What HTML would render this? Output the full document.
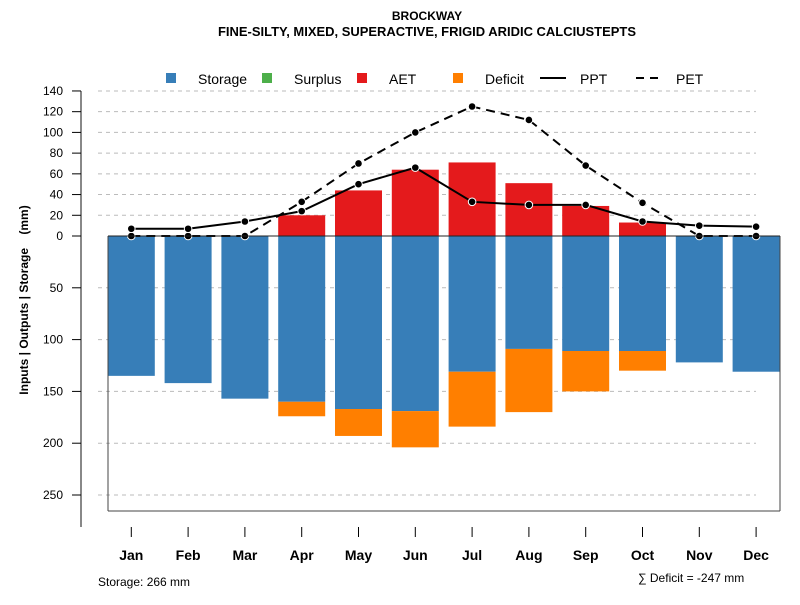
<!DOCTYPE html>
<html><head><meta charset="utf-8"><style>
body{margin:0;background:#fff;font-family:"Liberation Sans",sans-serif}
svg text{font-family:"Liberation Sans",sans-serif}
</style></head><body>
<svg id="chart" width="800" height="600" viewBox="0 0 800 600" xmlns="http://www.w3.org/2000/svg">
<text x="427" y="20" text-anchor="middle" font-size="12" font-weight="bold">BROCKWAY</text>
<text x="427" y="36" text-anchor="middle" font-size="12.5" font-weight="bold" textLength="418" lengthAdjust="spacingAndGlyphs">FINE-SILTY, MIXED, SUPERACTIVE, FRIGID ARIDIC CALCIUSTEPTS</text>
<g id="grid"></g>
<g id="bars"></g>
<g id="lines"></g>
<g id="axes"></g>
<g font-size="14">
 <rect x="166" y="73" width="10" height="10" fill="#377EB8"/>
 <text x="198" y="84">Storage</text>
 <rect x="262" y="73" width="10" height="10" fill="#4DAF4A"/>
 <text x="294" y="84">Surplus</text>
 <rect x="357" y="73" width="10" height="10" fill="#E41A1C"/>
 <text x="389" y="84">AET</text>
 <rect x="453" y="73" width="10" height="10" fill="#FF7F00"/>
 <text x="485" y="84">Deficit</text>
 <line x1="540" y1="78" x2="566" y2="78" stroke="#000" stroke-width="2"/>
 <text x="580" y="84">PPT</text>
 <line x1="636" y1="78" x2="662" y2="78" stroke="#000" stroke-width="2" stroke-dasharray="8,6"/>
 <text x="676" y="84">PET</text>
</g>
<text transform="translate(28,300) rotate(-90)" text-anchor="middle" font-size="12" font-weight="bold" xml:space="preserve">Inputs | Outputs | Storage    (mm)</text>
<text x="98" y="586" font-size="12">Storage: 266 mm</text>
<text x="638" y="582" font-size="12">∑ Deficit = -247 mm</text>
</svg>
<script>
const months=["Jan","Feb","Mar","Apr","May","Jun","Jul","Aug","Sep","Oct","Nov","Dec"];
const storage=[135,142,157,160,167,169,131,109,111,111,122,131];
const deficit=[0,0,0,14,26,35,53,61,39,19,0,0];
const aet=[0,0,0,20,44,64,71,51,29,13,0,0];
const ppt=[7,7,14,24,50,66,33,30,30,14,10,9];
const pet=[0,0,0,33,70,100,125,112,68,32,0,0];
const posTicks=[0,20,40,60,80,100,120,140];
const negTicks=[50,100,150,200,250];
const NS="http://www.w3.org/2000/svg";
const y0=236,k=1.036;
const y=v=>y0-v*k;
const x=i=>131.3+i*56.8;
const bw=47;
function mk(p,t,a){const e=document.createElementNS(NS,t);for(const n in a)e.setAttribute(n,a[n]);document.getElementById(p).appendChild(e);return e;}
[...posTicks.slice(1),...negTicks.map(v=>-v)].forEach(v=>{
 const l=mk('grid','line',{x1:98,x2:756,y1:y(v),y2:y(v),stroke:'#bbb','stroke-dasharray':'4,4'});
 
 
});
months.forEach((m,i)=>{
 const bx=x(i)-bw/2;
 const s=mk('bars','rect',{x:bx,y:y0,width:bw,height:storage[i]*k,fill:'#377EB8'});
 
 
 if(deficit[i]>0){const d=mk('bars','rect',{x:bx,y:y(-storage[i]),width:bw,height:deficit[i]*k,fill:'#FF7F00'});
 
 }
 if(aet[i]>0){const a=mk('bars','rect',{x:bx,y:y(aet[i]),width:bw,height:aet[i]*k,fill:'#E41A1C'});
 
 }
});
const ax=[['line',{x1:81,x2:81,y1:y(140),y2:527,stroke:'#888','stroke-width':2},'y-axis'],
 ['line',{x1:108,x2:108,y1:y0,y2:511,stroke:'#444'},'plot-box-left'],
 ['line',{x1:108,x2:780,y1:511,y2:511,stroke:'#444'},'plot-box-bottom'],
 ['line',{x1:780,x2:780,y1:y0,y2:511,stroke:'#444'},'plot-box-right'],
 ['line',{x1:108,x2:780,y1:y0,y2:y0,stroke:'#222'},'zero-line']];
ax.forEach(([t,a,n])=>{const e=mk('axes',t,a);});
[...posTicks,...negTicks.map(v=>-v)].forEach(v=>{
 const t=mk('axes','line',{x1:72,x2:81,y1:y(v),y2:y(v),stroke:'#000'});
 
 
 const l=mk('axes','text',{x:63,y:y(v)+4,'text-anchor':'end','font-size':12});
 l.textContent=Math.abs(v);
 
 
});
months.forEach((m,i)=>{
 const t=mk('axes','line',{x1:x(i),x2:x(i),y1:527,y2:537,stroke:'#000'});
 
 
 const l=mk('axes','text',{x:x(i),y:560,'text-anchor':'middle','font-size':14,'font-weight':'bold'});
 l.textContent=m;
 
 
});
function series(vals,name,dash){
 const p=mk('lines','polyline',{points:vals.map((v,i)=>x(i)+','+y(v)).join(' '),fill:'none',stroke:'#000','stroke-width':2,'stroke-dasharray':dash});
 
 
 vals.forEach((v,i)=>{const c=mk('lines','circle',{cx:x(i),cy:y(v),r:3.8,fill:'#000',stroke:'#fff','stroke-width':1});
 
 });
}
series(pet,'pet','9,6');
series(ppt,'ppt','none');
</script>
</body></html>
